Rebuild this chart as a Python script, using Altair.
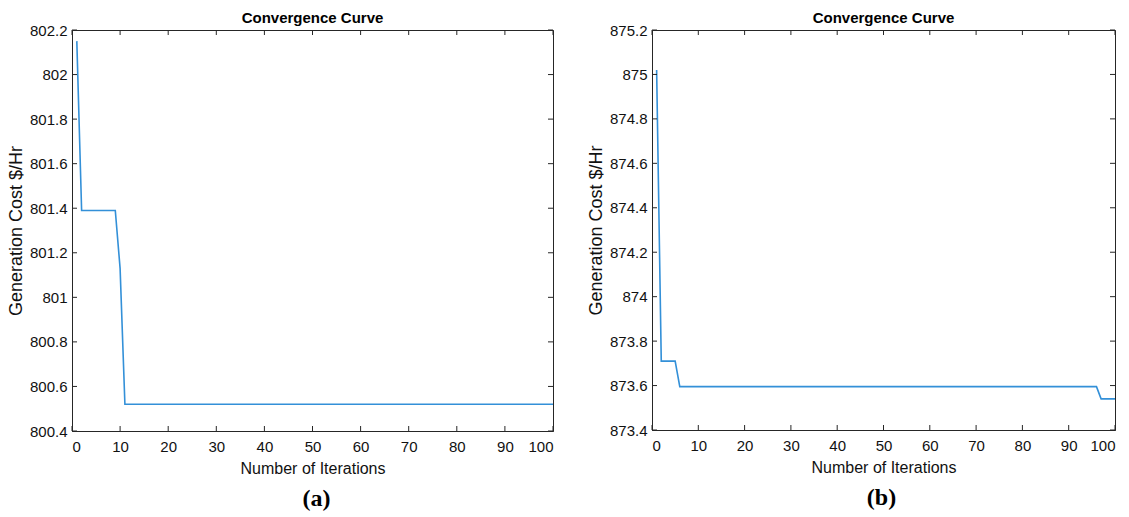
import altair as alt
import pandas as pd

# ---- data ----
iters_a = [1, 2, 9, 10, 11, 100]
cost_a = [802.15, 801.39, 801.39, 801.13, 800.52, 800.52]

iters_b = [1, 2, 5, 6, 96, 97, 100]
cost_b = [875.02, 873.71, 873.71, 873.595, 873.595, 873.54, 873.54]

x_ticks = [0, 10, 20, 30, 40, 50, 60, 70, 80, 90, 100]
y_ticks_a = [800.4, 800.6, 800.8, 801.0, 801.2, 801.4, 801.6, 801.8, 802.0, 802.2]
y_ticks_b = [873.4, 873.6, 873.8, 874.0, 874.2, 874.4, 874.6, 874.8, 875.0, 875.2]

panel_title = "Convergence Curve"
x_title = "Number of Iterations"
y_title = "Generation Cost $/Hr"
captions = ["(a)", "(b)"]

LINE = "#3390d8"
AX = "#262626"
FONT = "Liberation Sans"
TICK = 5


def panel(iters, costs, yticks, ydom, W, H, caption, cap_dx):
    df = pd.DataFrame({"iter": iters, "cost": costs})
    xt = pd.DataFrame({"v": x_ticks})
    yt = pd.DataFrame({"v": yticks})
    xs = alt.Scale(domain=[0, 100], nice=False, zero=False)
    ys = alt.Scale(domain=ydom, nice=False, zero=False)
    xax = alt.Axis(values=x_ticks, ticks=False, title=x_title, labelPadding=8,
                   titlePadding=6, format="d", titleFontSize=16)
    yax = alt.Axis(values=yticks, ticks=False, title=y_title, labelPadding=5,
                   titlePadding=4, format=".1~f", titleFontSize=18)

    line = alt.Chart(df).mark_line(color=LINE, strokeWidth=1.6, clip=True).encode(
        x=alt.X("iter:Q", scale=xs, axis=xax),
        y=alt.Y("cost:Q", scale=ys, axis=yax),
    )
    bt = alt.Chart(xt).mark_rule(color=AX, strokeWidth=1).encode(
        x=alt.X("v:Q", scale=xs, axis=xax), y=alt.value(H), y2=alt.value(H - TICK))
    tt = alt.Chart(xt).mark_rule(color=AX, strokeWidth=1).encode(
        x=alt.X("v:Q", scale=xs, axis=xax), y=alt.value(0), y2=alt.value(TICK))
    lt = alt.Chart(yt).mark_rule(color=AX, strokeWidth=1).encode(
        y=alt.Y("v:Q", scale=ys, axis=yax), x=alt.value(0), x2=alt.value(TICK))
    rt = alt.Chart(yt).mark_rule(color=AX, strokeWidth=1).encode(
        y=alt.Y("v:Q", scale=ys, axis=yax), x=alt.value(W), x2=alt.value(W - TICK))

    layered = alt.layer(line, bt, tt, lt, rt).properties(
        width=W, height=H,
        title=alt.TitleParams(panel_title, font=FONT, fontSize=15, fontWeight="bold",
                              color="#000000", offset=-3, anchor="middle"),
    )
    return alt.vconcat(layered).properties(
        title=alt.TitleParams(caption, orient="bottom", anchor="middle",
                              font="Liberation Serif", fontSize=24,
                              fontWeight="bold", color="#000000", offset=10, dx=cap_dx)
    )


pa = panel(iters_a, cost_a, y_ticks_a, [800.4, 802.2], 481, 401, captions[0], 36)
pb = panel(iters_b, cost_b, y_ticks_b, [873.4, 875.2], 463, 400, captions[1], 30)

chart = alt.hconcat(pa, pb, spacing=32).properties(
    padding={"left": 6, "top": 10, "right": 5, "bottom": 5}
).configure_view(
    stroke=AX, strokeWidth=1
).configure_axis(
    domainColor=AX, domainWidth=1, grid=False,
    labelFont=FONT, labelFontSize=15, labelColor="#111111",
    titleFont=FONT, titleFontSize=15, titleFontWeight="normal", titleColor="#111111",
).configure_concat(spacing=0)

chart.save("out.html", embed_options={"renderer": "svg", "actions": False})
